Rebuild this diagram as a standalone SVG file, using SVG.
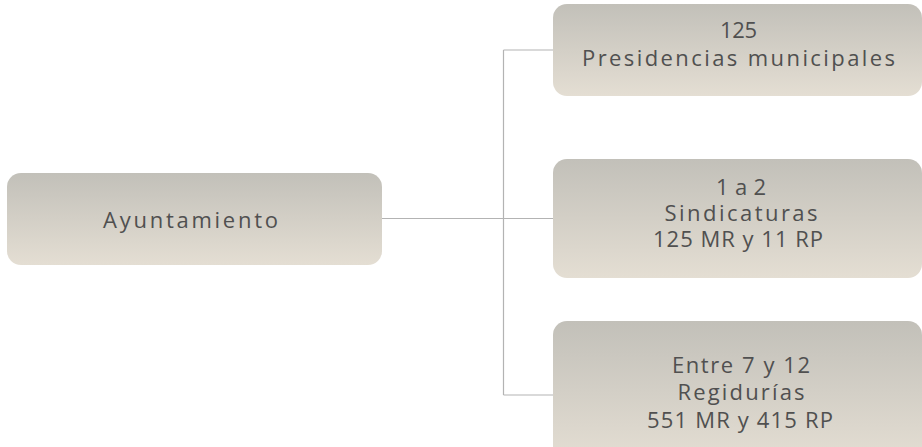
<svg xmlns="http://www.w3.org/2000/svg" width="922" height="447" viewBox="0 0 922 447">
<defs>
<linearGradient id="g" x1="0" y1="0" x2="0" y2="1">
<stop offset="0" stop-color="#c2c0b9"/>
<stop offset="1" stop-color="#e4ded3"/>
</linearGradient>
<style>
.box{fill:url(#g);}
.t{font-family:"Open Sans","Liberation Sans",sans-serif;font-size:22px;fill:#505050;text-anchor:middle;}
.c{fill:none;stroke:#b3b3b3;stroke-width:1.2;}
</style>
</defs>
<rect width="922" height="447" fill="#ffffff"/>
<g id="connectors">
<path class="c" d="M382 218.5H503.5M503.5 50V395M503.5 50H553M503.5 218.5H553M503.5 395H553"/>
</g>
<g id="ayuntamiento">
<rect class="box" x="7" y="173" width="375" height="92" rx="14"/>
<text class="t" x="190.5" y="228" textLength="175" lengthAdjust="spacing">Ayuntamiento</text>
</g>
<g id="presidencias">
<rect class="box" x="553" y="4" width="369" height="92" rx="14"/>
<text class="t" x="738.5" y="38" textLength="37" lengthAdjust="spacing">125</text>
<text class="t" x="738.5" y="66" textLength="313" lengthAdjust="spacing">Presidencias municipales</text>
</g>
<g id="sindicaturas">
<rect class="box" x="553" y="159" width="369" height="119" rx="14"/>
<text class="t" x="741" y="195" textLength="50" lengthAdjust="spacing">1 a 2</text>
<text class="t" x="741" y="221" textLength="153" lengthAdjust="spacing">Sindicaturas</text>
<text class="t" x="738" y="247" textLength="170" lengthAdjust="spacing">125 MR y 11 RP</text>
</g>
<g id="regidurias">
<rect class="box" x="553" y="321" width="369" height="140" rx="14"/>
<text class="t" x="741" y="373" textLength="138" lengthAdjust="spacing">Entre 7 y 12</text>
<text class="t" x="741" y="400" textLength="127" lengthAdjust="spacing">Regidurías</text>
<text class="t" x="740" y="428" textLength="186" lengthAdjust="spacing">551 MR y 415 RP</text>
</g>
</svg>
